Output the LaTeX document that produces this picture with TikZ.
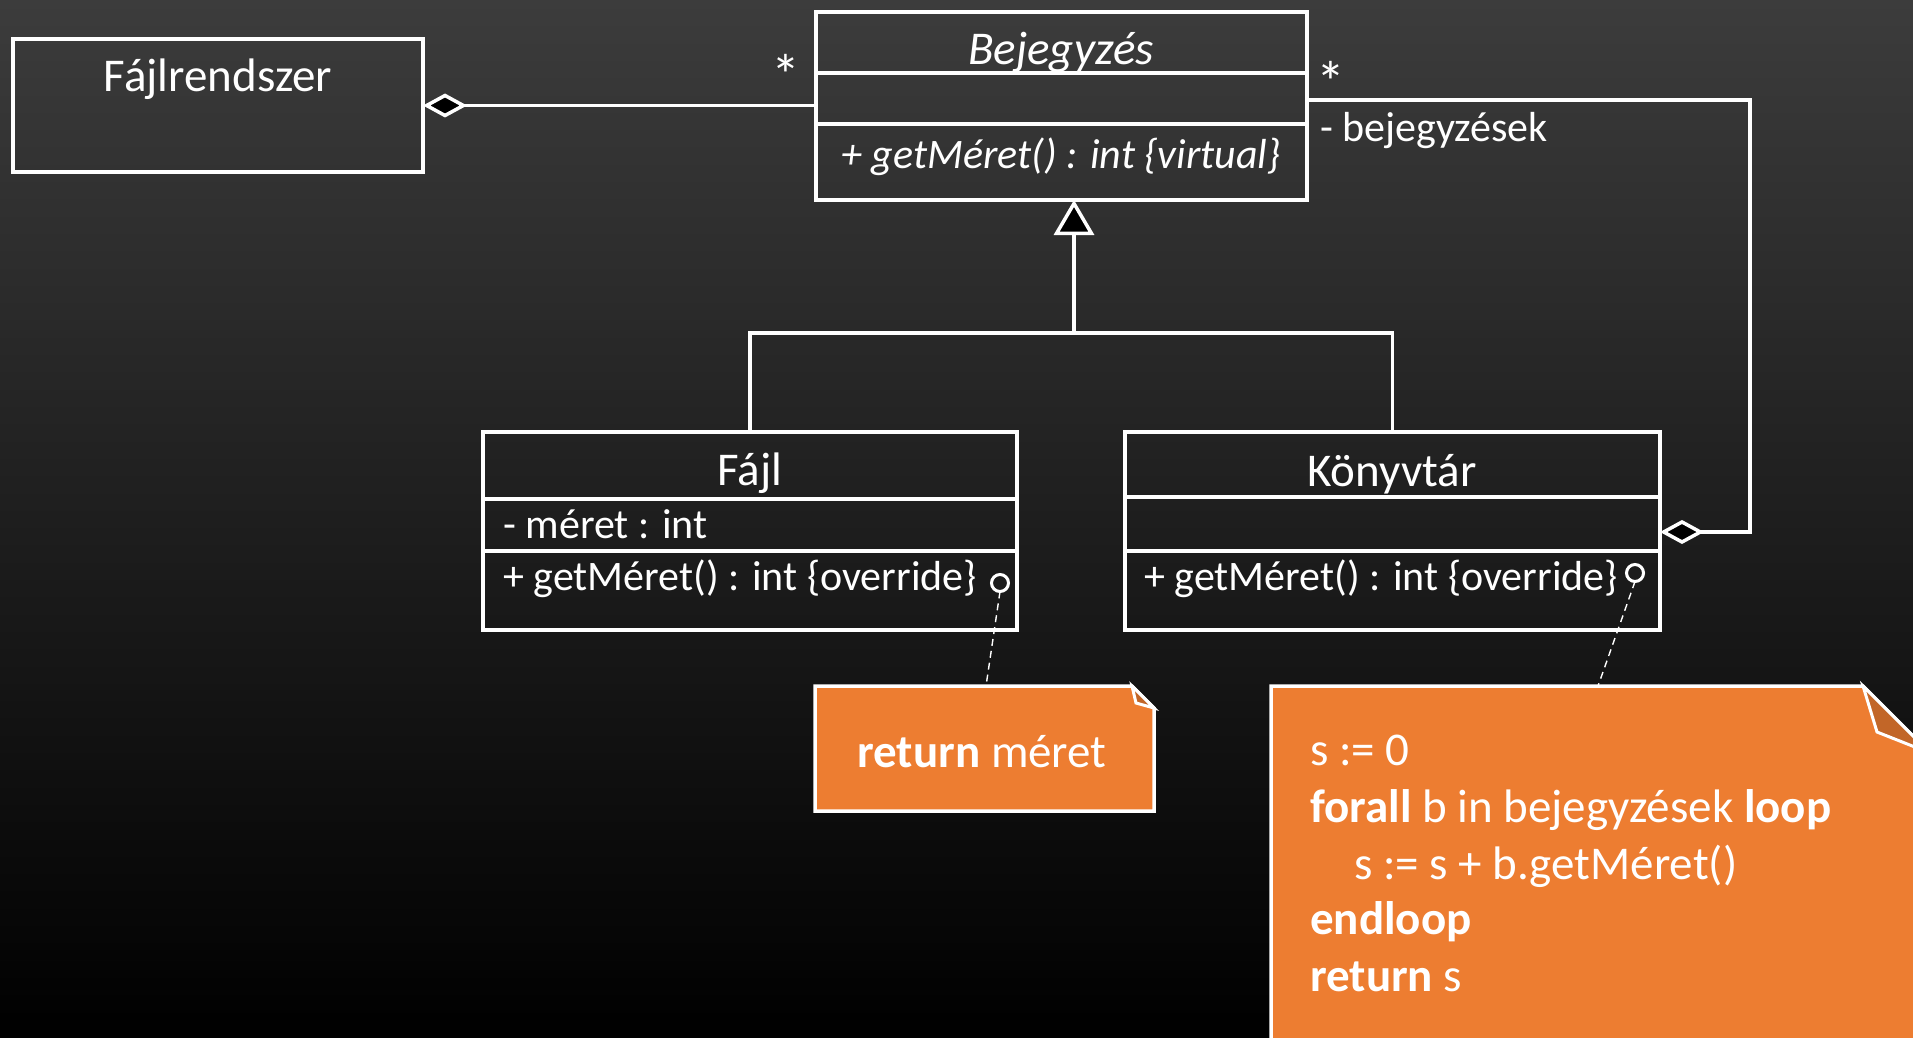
\documentclass[tikz,border=0pt]{standalone}
\usepackage{fontspec}
\setmainfont{Carlito}
\usetikzlibrary{arrows.meta}
\definecolor{noteorange}{RGB}{237,125,49}
\definecolor{folddark}{RGB}{194,102,40}
\definecolor{bgtop}{RGB}{60,60,60}
\definecolor{hole}{RGB}{28,28,28}

\begin{document}
\begin{tikzpicture}[x=1pt,y=-1pt,
  comp/.style 2 args={draw=white, line width=3.5pt, minimum width=#1pt,
    minimum height=#2pt, anchor=north west, inner sep=0pt, outer sep=0pt},
  title/.style={text=white, inner sep=0pt, font=\fontsize{47}{56}\selectfont},
  member/.style={text=white, inner sep=0pt, font=\fontsize{42}{50}\selectfont},
  mult/.style={text=white, inner sep=0pt, font=\fontsize{58}{66}\selectfont},
  notetext/.style={text=white, inner sep=0pt, anchor=base west,
    font=\fontsize{47}{57}\selectfont},
  link/.style={draw=white, line width=3.5pt},
  agg/.style={link, {Diamond[length=44pt,width=24pt,fill=black]}-},
  inh/.style={link, -{Triangle[length=35pt,width=40pt,fill=black]}},
  anchorlink/.style={draw=white, line width=1.4pt, dash pattern=on 7pt off 5pt},
  pin/.style={circle, draw=white, line width=3pt, fill=hole,
    minimum size=17pt, inner sep=0pt, outer sep=0pt},
  notebody/.style={fill=noteorange, draw=white, line width=3.5pt, line join=miter},
  notefold/.style={fill=folddark, draw=white, line width=3pt, line join=miter}]

% canvas and dark gradient backdrop
\useasboundingbox (0,0) rectangle (1913,1038);
\clip (0,0) rectangle (1913,1038);
\shade[top color=bgtop, bottom color=black] (0,0) rectangle (1913,1038);

% ---- Fájlrendszer
\node[comp={410}{133}] (fs) at (13,39) {};
\node[title, anchor=base] (fsL) at (218,92) {Fájlrendszer};

% ---- Bejegyzés (abstract)
\node[comp={491}{61}] (bejT) at (816,12) {};
\node[comp={491}{51}] (bejA) at (816,73) {};
\node[comp={491}{76}] (bejM) at (816,124) {};
\node[title, anchor=base] (bejL) at (1061,65) {\itshape Bejegyzés};
\node[member, anchor=base] (bejOp) at (1061,168) {\itshape + getMéret() : int \{virtual\}};

% ---- Fájl
\node[comp={534}{67}] (fajT) at (483,432) {};
\node[comp={534}{52}] (fajA) at (483,499) {};
\node[comp={534}{79}] (fajM) at (483,551) {};
\node[title, anchor=base] (fajL) at (750,485) {Fájl};
\node[member, anchor=base west] (fajAttr) at (503,538) {- méret : int};
\node[member, anchor=base west] (fajOp) at (503,590) {+ getMéret() : int \{override\}};

% ---- Könyvtár
\node[comp={535}{65}] (kvT) at (1125,432) {};
\node[comp={535}{54}] (kvA) at (1125,497) {};
\node[comp={535}{79}] (kvM) at (1125,551) {};
\node[title, anchor=base] (kvL) at (1392,486) {Könyvtár};
\node[member, anchor=base west] (kvOp) at (1144,590) {+ getMéret() : int \{override\}};

% ---- Fájlrendszer aggregates Bejegyzés
\draw[agg] (fs.east) -- (fs.east -| bejA.west);
\node[mult, anchor=base] (starL) at (786,96) {*};

% ---- Könyvtár aggregates Bejegyzés (- bejegyzések)
\coordinate (route) at (1750,316);
\draw[agg] ([yshift=-8pt]kvA.east) -| (route) |- ([yshift=-1.5pt]bejA.east);
\node[mult, anchor=base] (starR) at (1331,103) {*};
\node[member, anchor=base west] (roleR) at (1320,142) {- bejegyzések};

% ---- generalisation
\coordinate (hub) at (1074,333);
\draw[link] (fajT.north) |- (hub);
\draw[link] (kvT.north) |- (hub);
\draw[inh] (hub) -- (hub |- bejM.south);

% ---- note anchors on the operations
\node[pin] (pinF) at (1000,583) {};
\node[pin] (pinK) at (1635,573) {};
\coordinate (noteSTop) at (986,686);
\coordinate (noteBTop) at (1598,686);
\draw[anchorlink] (pinF.south) -- (noteSTop);
\draw[anchorlink] (pinK.south) -- (noteBTop);

% ---- small note
\path[notebody] (815,686) -- (1132,686) -- (1154,708) -- (1154,811) -- (815,811) -- cycle;
\path[notefold] (1132,686) -- (1136,703) -- (1154,708) -- cycle;
\node[notetext, anchor=base] (noteS) at (982,767) {\textbf{return} méret};

% ---- large note
\path[notebody] (1271,1060) -- (1271,686) -- (1863,686) -- (1930,753) -- (1930,1060) -- cycle;
\path[notefold] (1863,686) -- (1877,732) -- (1930,753) -- cycle;
\node[notetext] (nl1) at (1310,765) {s := 0};
\node[notetext] (nl2) at (1310,822) {\textbf{forall} b in bejegyzések \textbf{loop}};
\node[notetext] (nl3) at (1354,879) {s := s + b.getMéret()};
\node[notetext] (nl4) at (1310,934) {\textbf{endloop}};
\node[notetext] (nl5) at (1310,991) {\textbf{return} s};
\end{tikzpicture}
\end{document}
